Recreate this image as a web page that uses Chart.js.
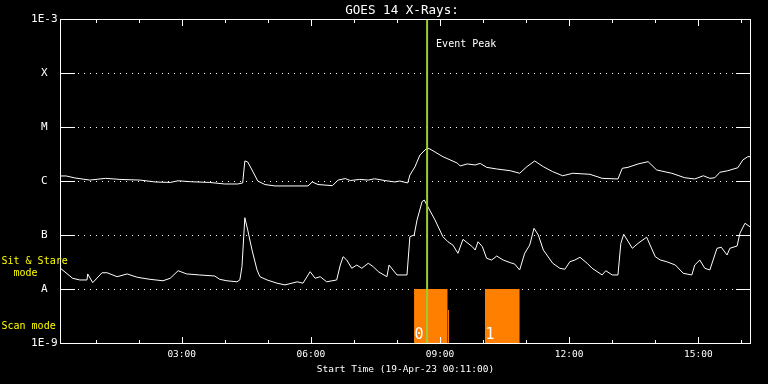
<!DOCTYPE html>
<html><head><meta charset="utf-8">
<script src="https://cdn.jsdelivr.net/npm/chart.js@4/dist/chart.umd.min.js"></script>
<style>html,body{margin:0;padding:0;background:#000;}canvas{display:block;}</style>
</head><body>
<canvas id="c" width="768" height="384"></canvas>
<script>
// ---- text ----
const chartTitle = 'GOES 14 X-Rays:';
const xAxisTitle = 'Start Time (19-Apr-23 00:11:00)';
const eventLabel = 'Event Peak';
const modeLabels = ['Sit & Stare', '  mode', 'Scan mode'];

// ---- axes ----
const axisStart = '00:10:24';
const axisEnd = '16:13:24';
const xTickTimes = ['03:00', '06:00', '09:00', '12:00', '15:00'];
const xTickLabels = ['03:00', '06:00', '09:00', '12:00', '15:00'];
const yTickValues = [1e-9, 1e-8, 1e-7, 1e-6, 1e-5, 1e-4, 1e-3];
const yTickLabels = ['1E-9', 'A', 'B', 'C', 'M', 'X', '1E-3'];

// ---- long channel (upper curve), W/m^2 ----
const longTimes = ['00:10','00:19','00:31','00:52','01:14','01:34','02:02','02:23','02:44','02:55',
  '03:12','03:39','04:00','04:18','04:25','04:28','04:32','04:38','04:46','04:56',
  '05:10','05:56','06:02','06:10','06:30','06:38','06:48','06:55','07:08','07:20',
  '07:29','07:43','07:57','08:04','08:15','08:18','08:25','08:32','08:42','08:46',
  '09:04','09:24','09:28','09:38','09:49','09:56','10:05','10:19','10:38','10:51',
  '11:01','11:12','11:24','11:37','11:51','12:05','12:29','12:46','13:08','13:14',
  '13:22','13:36','13:50','14:02','14:23','14:41','14:55','15:07','15:16','15:23',
  '15:30','15:41','15:55','16:02','16:09','16:13'];
const longFlux = [1.24e-6,1.24e-6,1.14e-6,1.04e-6,1.12e-6,1.07e-6,1.04e-6,9.6e-7,9.4e-7,1.01e-6,
  9.7e-7,9.4e-7,8.8e-7,8.8e-7,9.2e-7,2.35e-6,2.25e-6,1.60e-6,1.0e-6,8.6e-7,
  8.1e-7,8.1e-7,9.6e-7,8.6e-7,8.2e-7,1.04e-6,1.11e-6,1.02e-6,1.07e-6,1.04e-6,
  1.10e-6,1.02e-6,9.6e-7,1.0e-6,9.2e-7,1.29e-6,1.82e-6,3.03e-6,4.08e-6,3.91e-6,
  2.82e-6,2.15e-6,1.90e-6,2.07e-6,1.98e-6,2.12e-6,1.79e-6,1.67e-6,1.55e-6,1.39e-6,
  1.84e-6,2.35e-6,1.84e-6,1.49e-6,1.25e-6,1.39e-6,1.33e-6,1.12e-6,1.09e-6,1.72e-6,
  1.79e-6,2.07e-6,2.28e-6,1.60e-6,1.39e-6,1.15e-6,1.09e-6,1.25e-6,1.12e-6,1.15e-6,
  1.45e-6,1.55e-6,1.76e-6,2.45e-6,2.82e-6,2.82e-6];

// ---- short channel (lower curve), W/m^2 ----
const shortTimes = ['00:11','00:28','00:38','00:48','00:49','00:56','01:09','01:16','01:30','01:44',
  '01:58','02:16','02:34','02:44','02:55','03:07','03:25','03:46','03:53','04:03',
  '04:17','04:21','04:24','04:28','04:32','04:38','04:45','04:49','04:59','05:13',
  '05:24','05:41','05:49','05:59','06:06','06:13','06:22','06:36','06:41','06:45',
  '06:50','06:57','07:04','07:11','07:20','07:27','07:34','07:46','07:49','08:00',
  '08:14','08:18','08:24','08:28','08:35','08:38','08:43','08:53','09:04','09:11',
  '09:18','09:25','09:32','09:45','09:49','09:53','09:59','10:05','10:12','10:19',
  '10:28','10:38','10:44','10:51','10:58','11:05','11:11','11:17','11:24','11:37',
  '11:47','11:54','12:01','12:08','12:15','12:25','12:32','12:46','12:51','13:00',
  '13:08','13:12','13:16','13:28','13:36','13:48','14:00','14:07','14:16','14:28',
  '14:39','14:51','14:55','15:02','15:09','15:16','15:26','15:32','15:40','15:44',
  '15:54','15:58','16:05','16:12'];
const shortFlux = [2.42e-8,1.58e-8,1.47e-8,1.47e-8,1.90e-8,1.31e-8,2.00e-8,2.00e-8,1.69e-8,1.90e-8,
  1.65e-8,1.51e-8,1.42e-8,1.58e-8,2.18e-8,1.90e-8,1.82e-8,1.74e-8,1.51e-8,1.42e-8,
  1.36e-8,1.47e-8,2.59e-8,2.09e-7,1.24e-7,5.27e-8,2.25e-8,1.69e-8,1.47e-8,1.28e-8,
  1.19e-8,1.36e-8,1.28e-8,2.09e-8,1.58e-8,1.69e-8,1.36e-8,1.47e-8,2.78e-8,3.96e-8,
  3.44e-8,2.42e-8,2.78e-8,2.42e-8,3.0e-8,2.59e-8,2.09e-8,1.69e-8,2.78e-8,1.82e-8,
  1.82e-8,9.3e-8,1.0e-7,1.90e-7,4.14e-7,4.44e-7,3.34e-7,1.90e-7,9.3e-8,7.5e-8,
  6.5e-8,4.58e-8,8.3e-8,6.08e-8,5.27e-8,7.5e-8,6.08e-8,3.70e-8,3.44e-8,4.08e-8,
  3.44e-8,3.07e-8,2.90e-8,2.25e-8,4.58e-8,6.5e-8,1.33e-7,1.0e-7,5.27e-8,3.0e-8,
  2.42e-8,2.32e-8,3.2e-8,3.44e-8,3.87e-8,3.0e-8,2.42e-8,1.82e-8,2.18e-8,1.82e-8,
  1.82e-8,7.0e-8,1.03e-7,5.67e-8,7.0e-8,9.1e-8,3.96e-8,3.44e-8,3.2e-8,2.78e-8,
  1.95e-8,1.82e-8,2.78e-8,3.44e-8,2.42e-8,2.25e-8,5.67e-8,5.93e-8,4.26e-8,5.67e-8,
  6.25e-8,1.08e-7,1.65e-7,1.42e-7];

// ---- event and scan blocks ----
const eventPeakTime = '08:42';
const scanStart = ['08:23:48', '09:10:42', '10:02:42'];
const scanEnd   = ['09:10:42', '09:12:30', '10:51:06'];
const scanTop   = [1e-8, 4.1e-9, 1e-8];
const scanLabels = ['0', '', '1'];
const scanBase = 1e-9;

// ---- helpers ----
function toMin(t) {
  const p = t.split(':').map(Number);
  return p[0] * 60 + p[1] + (p[2] || 0) / 60;
}
const pairs = (ts, vs) => ts.map((t, i) => ({x: toMin(t), y: vs[i]}));

const scanData = [];
scanStart.forEach((s, i) => {
  scanData.push({x: toMin(s), y: scanTop[i]}, {x: toMin(scanEnd[i]), y: scanTop[i]}, {x: toMin(scanEnd[i]), y: null});
});

const MONO = '"DejaVu Sans Mono", monospace';

const decor = {
  id: 'decor',
  beforeDatasetsDraw(chart) {
    const {ctx, chartArea: a, scales: {y}} = chart;
    ctx.save();
    ctx.strokeStyle = '#fff';
    ctx.lineWidth = 1;
    yTickValues.slice(1, -1).forEach(v => {
      const py = Math.round(y.getPixelForValue(v)) + 0.5;
      ctx.setLineDash([1, 5]);
      ctx.beginPath(); ctx.moveTo(a.left, py); ctx.lineTo(a.right, py); ctx.stroke();
      ctx.setLineDash([]);
      ctx.beginPath(); ctx.moveTo(a.left, py); ctx.lineTo(a.left + 15, py); ctx.stroke();
      ctx.beginPath(); ctx.moveTo(a.right - 15, py); ctx.lineTo(a.right, py); ctx.stroke();
    });
    ctx.restore();
  },
  afterDatasetsDraw(chart) {
    const {ctx, chartArea: a, scales: {x, y}} = chart;
    ctx.save();
    ctx.strokeStyle = '#fff';
    ctx.lineWidth = 1;
    ctx.strokeRect(a.left + 0.5, a.top + 0.5, a.right - a.left - 1, a.bottom - a.top);
    // hourly ticks, inward, top and bottom
    for (let m = 60; m < x.max; m += 60) {
      if (m < x.min) continue;
      const px = Math.round(x.getPixelForValue(m)) + 0.5;
      const len = (m % 180 === 0) ? 7 : 4;
      ctx.beginPath();
      ctx.moveTo(px, a.top); ctx.lineTo(px, a.top + len);
      ctx.moveTo(px, a.bottom + 1); ctx.lineTo(px, a.bottom + 1 - len);
      ctx.stroke();
    }
    // texts
    ctx.fillStyle = '#fff';
    ctx.textBaseline = 'alphabetic';
    ctx.font = '12.6px ' + MONO;
    ctx.textAlign = 'center';
    ctx.fillText(chartTitle, 402, 14);
    ctx.font = '9.5px ' + MONO;
    ctx.fillText(xAxisTitle, 405.5, 372);
    ctx.textAlign = 'left';
    ctx.font = '10px ' + MONO;
    ctx.fillText(eventLabel, x.getPixelForValue(toMin(eventPeakTime)) + 9, 47);
    ctx.fillStyle = '#ffff00';
    ctx.fillText(modeLabels[0], 1.5, 263.5);
    ctx.fillText(modeLabels[1], 1.5, 275.5);
    ctx.fillText(modeLabels[2], 1.5, 328.5);
    ctx.fillStyle = '#fff';
    ctx.font = '15px ' + MONO;
    scanStart.forEach((s, i) => {
      if (!scanLabels[i]) return;
      ctx.fillText(scanLabels[i], x.getPixelForValue(toMin(s)) + 0.5, y.getPixelForValue(scanBase) - 4);
    });
    ctx.restore();
  }
};

new Chart(document.getElementById('c'), {
  type: 'line',
  data: {
    datasets: [
      {label: 'Event Peak', data: [{x: toMin(eventPeakTime), y: 1e-9}, {x: toMin(eventPeakTime), y: 1e-3}],
       borderColor: '#9acd32', borderWidth: 2, pointRadius: 0, fill: false},
      {label: 'long', data: pairs(longTimes, longFlux), borderColor: '#ffffff', borderWidth: 1, pointRadius: 0, fill: false},
      {label: 'short', data: pairs(shortTimes, shortFlux), borderColor: '#ffffff', borderWidth: 1, pointRadius: 0, fill: false},
      {label: 'scan', data: scanData, borderWidth: 0, borderColor: 'rgba(0,0,0,0)', backgroundColor: '#ff8000',
       pointRadius: 0, spanGaps: false, fill: {value: scanBase}}
    ]
  },
  options: {
    responsive: false, animation: false, devicePixelRatio: 1,
    layout: {padding: {top: 19, right: 17, left: 0, bottom: 0}},
    plugins: {legend: {display: false}, tooltip: {enabled: false}, title: {display: false}},
    elements: {line: {tension: 0}},
    scales: {
      x: {
        type: 'linear', min: toMin(axisStart), max: toMin(axisEnd),
        grid: {display: false, drawTicks: false}, border: {display: false},
        afterBuildTicks: s => { s.ticks = xTickTimes.map(t => ({value: toMin(t)})); },
        afterFit: s => { s.height = 41; },
        ticks: {color: '#fff', font: {family: MONO, size: 9.5}, padding: 6, maxRotation: 0, autoSkip: false,
                callback: (v, i) => xTickLabels[i]}
      },
      y: {
        type: 'logarithmic', min: 1e-9, max: 1e-3,
        grid: {display: false, drawTicks: false}, border: {display: false},
        afterBuildTicks: s => { s.ticks = yTickValues.map(v => ({value: v})); },
        afterFit: s => { s.width = 60; },
        ticks: {color: '#fff', font: {family: MONO, size: 11}, padding: 2.5, crossAlign: 'center', autoSkip: false,
                callback: (v, i) => yTickLabels[i]}
      }
    }
  },
  plugins: [decor]
});
</script>
</body></html>
